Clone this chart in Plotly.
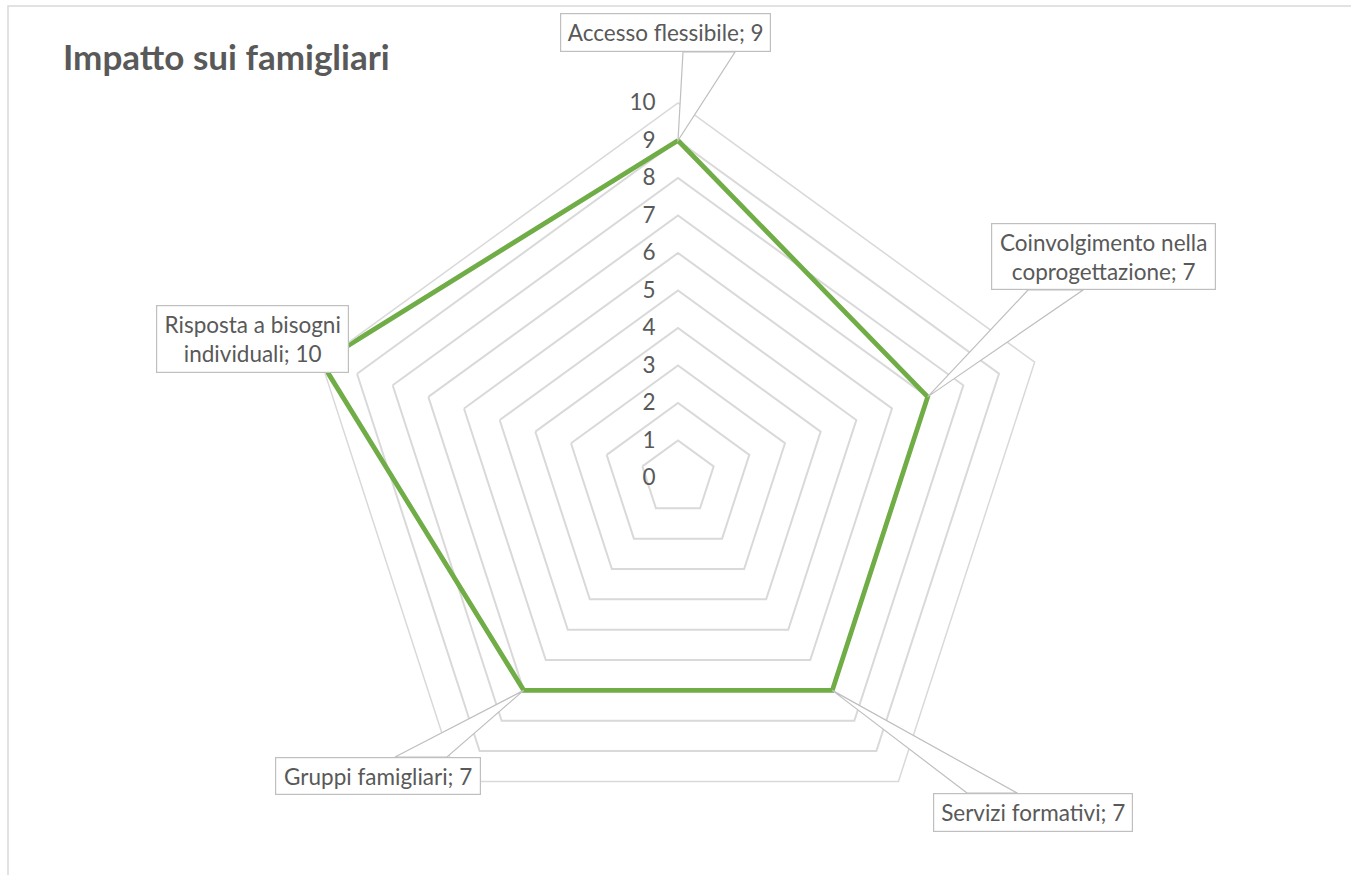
import math
import plotly.graph_objects as go

# ---------------- data ----------------
categories = [
    "Accesso flessibile",
    "Coinvolgimento nella coprogettazione",
    "Servizi formativi",
    "Gruppi famigliari",
    "Risposta a bisogni individuali",
]
values = [9, 7, 7, 7, 10]
label_texts = [
    "Accesso flessibile; 9",
    "Coinvolgimento nella<br>coprogettazione; 7",
    "Servizi formativi; 7",
    "Gruppi famigliari; 7",
    "Risposta a bisogni<br>individuali; 10",
]
radial_ticks = list(range(0, 11))
title_text = "Impatto sui famigliari"

# ---------------- layout geometry (pixels) ----------------
W, H = 1351, 875
CX, CY, R = 678, 478, 375          # radar centre and outer radius in px
RMAX = 10
PXU = R / RMAX                     # px per value unit

dom_x = [(CX - R) / W, (CX + R) / W]
dom_y = [(H - CY - R) / H, (H - CY + R) / H]

# callout boxes: left, top, right, bottom, wedge base x0, x1 (px)
boxes = [
    (560, 13, 771, 52, 683, 735),
    (991, 223, 1216, 290, 1028, 1083),
    (933, 793, 1133, 832, 967, 1017),
    (275, 757, 481, 795, 395, 447),
    (156, 305, 349, 373, 300, 340),
]

GRID = "#d9d9d9"
TXT = "#595959"
GREEN = "#70ad47"
FONT = "Lato"


def ux(px):
    return (px - CX) / PXU


def uy(py):
    return (CY - py) / PXU


fig = go.Figure()

fig.add_trace(go.Scatterpolar(
    r=values + values[:1],
    theta=categories + categories[:1],
    mode="lines",
    line=dict(color=GREEN, width=4.8),
    hoverinfo="skip",
    showlegend=False,
))

shapes = []
annotations = []
n = len(categories)
for i, (v, txt, b) in enumerate(zip(values, label_texts, boxes)):
    ang = math.radians(90 - 360 / n * i)
    px_ = v * math.cos(ang)
    py_ = v * math.sin(ang)
    l, t, r_, btm, b0, b1 = b
    apex_px = CX + px_ * PXU
    apex_py = CY - py_ * PXU
    inside = (l <= apex_px <= r_) and (t <= apex_py <= btm)
    if not inside:
        base_y = btm if apex_py > btm else t
        shapes.append(dict(
            type="path", xref="x", yref="y", layer="above",
            path=f"M {ux(b0)} {uy(base_y)} L {px_} {py_} L {ux(b1)} {uy(base_y)} Z",
            fillcolor="white", line=dict(color="#bfbfbf", width=1.2),
        ))
    annotations.append(dict(
        xref="x", yref="y", x=ux((l + r_) / 2), y=uy((t + btm) / 2),
        xanchor="center", yanchor="middle", showarrow=False,
        text=txt, align="center",
        width=r_ - l - 2, height=btm - t - 2,
        bgcolor="white", bordercolor="#bfbfbf", borderwidth=1.2, borderpad=0,
        font=dict(family=FONT, size=22.5, color=TXT),
    ))

annotations.append(dict(
    xref="paper", yref="paper", x=61 / W, y=1 - 56 / H,
    xanchor="left", yanchor="middle", showarrow=False,
    text=f"<b>{title_text}</b>",
    font=dict(family=FONT, size=35, color=TXT),
))

shapes.append(dict(
    type="rect", xref="paper", yref="paper",
    x0=8 / W, x1=1.02, y0=-0.02, y1=1 - 6 / H,
    line=dict(color=GRID, width=1.5), fillcolor="rgba(0,0,0,0)", layer="below",
))

fig.update_layout(
    width=W, height=H,
    margin=dict(l=0, r=0, t=0, b=0),
    paper_bgcolor="white", plot_bgcolor="rgba(0,0,0,0)",
    showlegend=False,
    polar=dict(
        domain=dict(x=dom_x, y=dom_y),
        bgcolor="rgba(0,0,0,0)",
        gridshape="linear",
        radialaxis=dict(
            range=[0, RMAX], tickvals=radial_ticks, ticktext=[str(t) for t in radial_ticks],
            angle=90, side="counterclockwise",
            showline=False, showgrid=True, gridcolor=GRID, gridwidth=1.5,
            ticks="outside", ticklen=14, tickcolor="rgba(0,0,0,0)",
            tickfont=dict(family=FONT, size=22.5, color=TXT), tickangle=90,
        ),
        angularaxis=dict(
            rotation=90, direction="clockwise",
            showgrid=False, showticklabels=False, ticks="",
            showline=True, linecolor=GRID, linewidth=1.5,
        ),
    ),
    xaxis=dict(domain=[0, 1], range=[ux(0), ux(W)], visible=False, fixedrange=True),
    yaxis=dict(domain=[0, 1], range=[uy(H), uy(0)], visible=False, fixedrange=True),
    shapes=shapes,
    annotations=annotations,
)

fig.write_html(
    "out.html",
    config={"displayModeBar": False},
    post_script="document.body.style.margin='0';",
)
